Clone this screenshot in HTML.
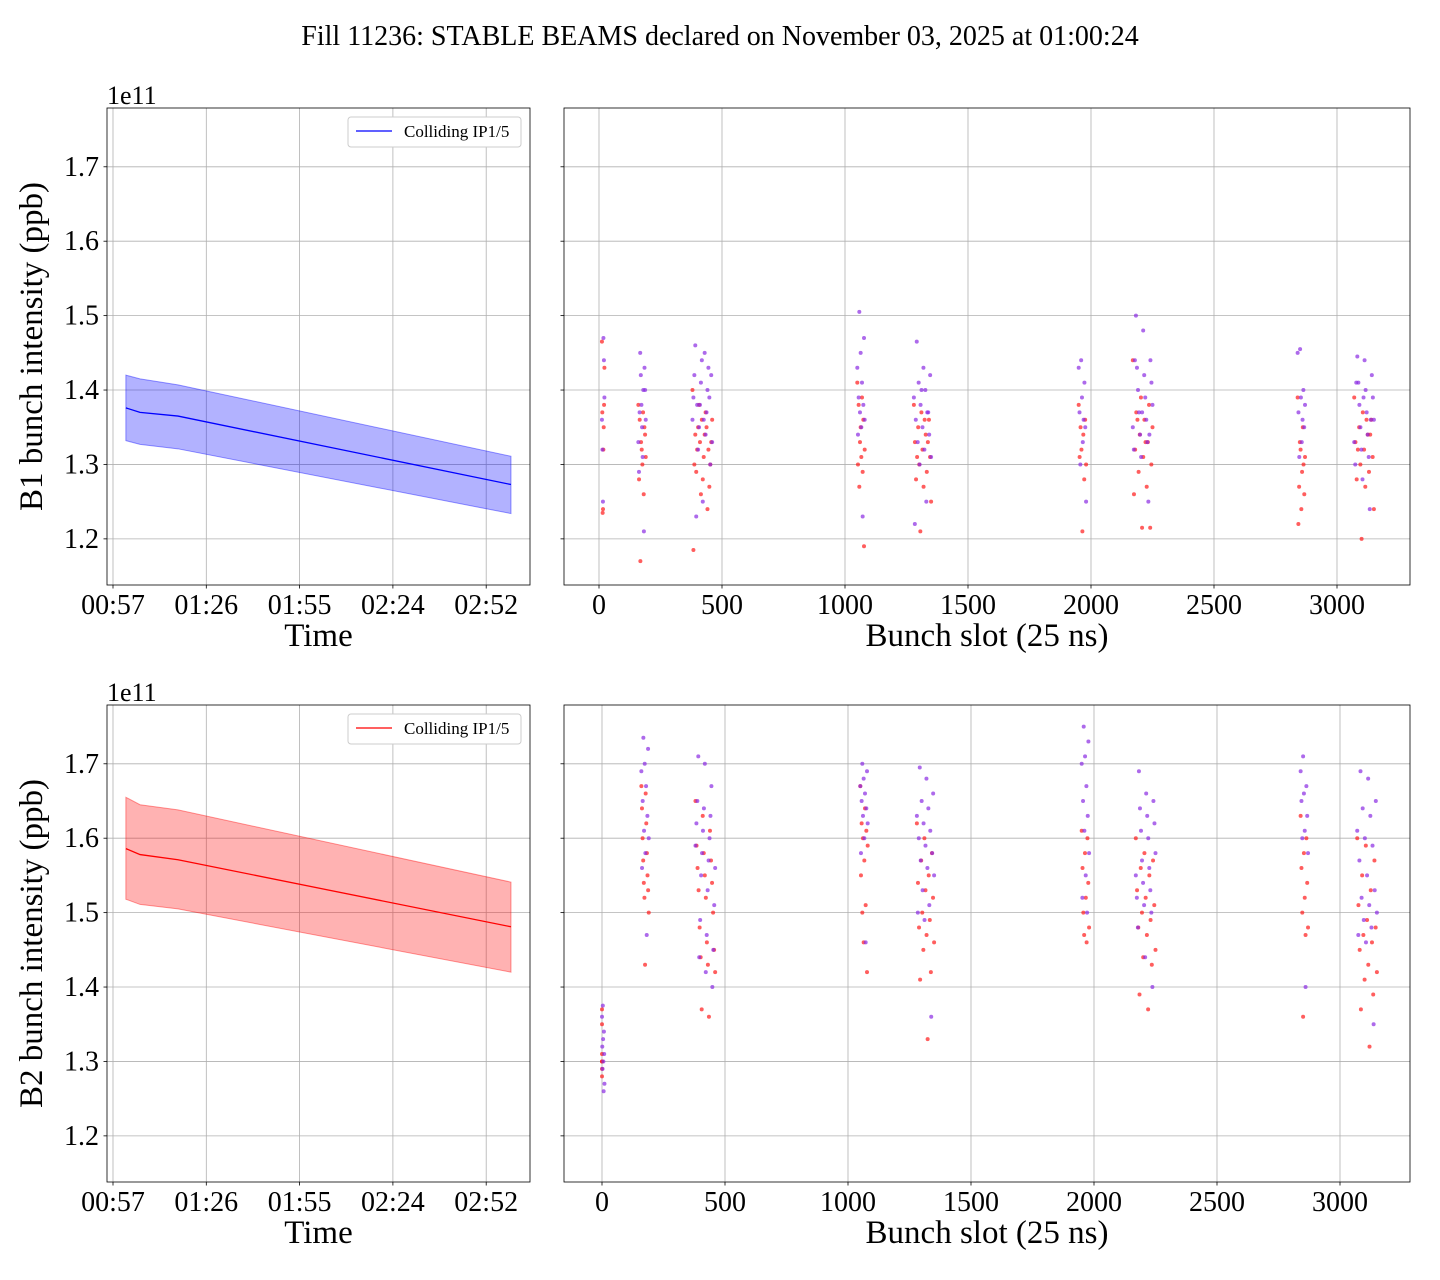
<!DOCTYPE html>
<html><head><meta charset="utf-8">
<style>
body{margin:0;background:#fff;}
svg{display:block;font-family:"Liberation Serif",serif;}
</style></head>
<body>
<svg id="fig" width="1440" height="1280" viewBox="0 0 1440 1280" xmlns="http://www.w3.org/2000/svg">
<text x="720" y="45" font-size="28" text-anchor="middle">Fill 11236: STABLE BEAMS declared on November 03, 2025 at 01:00:24</text>
</svg>
<script>
// ---- data ----
const yTicks = [1.2,1.3,1.4,1.5,1.6,1.7];
const timeTickMin = [0,29,58,87,116];
const timeTickLabels = ["00:57","01:26","01:55","02:24","02:52"];
const slotTicks = [0,500,1000,1500,2000,2500,3000];
const bandTimes = [4.0,8.4,20.2,123.7];
const b1Mean = [1.376,1.370,1.365,1.273];
const b1Upper = [1.420,1.415,1.407,1.311];
const b1Lower = [1.332,1.327,1.321,1.234];
const b2Mean = [1.586,1.578,1.571,1.481];
const b2Upper = [1.655,1.645,1.638,1.541];
const b2Lower = [1.518,1.511,1.505,1.420];
const clusterStart = [12,160,380,1050,1280,1950,2170,2840,3070];
const clusterEnd = [22,190,460,1080,1350,1980,2250,2870,3150];
const clusterStartB2 = [0,160,380,1050,1280,1950,2170,2840,3070];
const clusterEndB2 = [10,190,460,1080,1350,1980,2250,2870,3150];
const b1Purple = [
[1.47,1.44,1.39,1.36,1.32,1.25],
[1.45,1.43,1.42,1.40,1.38,1.36,1.35,1.33,1.31,1.29,1.40,1.37,1.21],
[1.46,1.44,1.43,1.42,1.41,1.40,1.39,1.38,1.37,1.36,1.35,1.34,1.33,1.32,1.45,1.42,1.38,1.36,1.30,1.23,1.25,1.39],
[1.505,1.47,1.45,1.43,1.41,1.39,1.38,1.37,1.36,1.35,1.34,1.23],
[1.465,1.43,1.42,1.41,1.40,1.39,1.38,1.37,1.36,1.35,1.34,1.33,1.32,1.31,1.30,1.25,1.22,1.40,1.37],
[1.44,1.43,1.41,1.39,1.37,1.35,1.33,1.30,1.25,1.36],
[1.50,1.48,1.44,1.43,1.42,1.41,1.40,1.39,1.38,1.37,1.36,1.35,1.34,1.33,1.32,1.31,1.25,1.44,1.37,1.34],
[1.455,1.45,1.40,1.39,1.37,1.35,1.33,1.31,1.38,1.36],
[1.445,1.44,1.42,1.41,1.40,1.39,1.38,1.37,1.36,1.35,1.34,1.33,1.32,1.31,1.30,1.28,1.24,1.41,1.39,1.36]];
const b1Red = [
[1.465,1.43,1.38,1.35,1.32,1.24,1.235,1.37],
[1.38,1.37,1.36,1.35,1.33,1.31,1.30,1.28,1.26,1.17,1.34,1.32],
[1.40,1.38,1.37,1.36,1.35,1.34,1.33,1.32,1.31,1.30,1.29,1.28,1.27,1.34,1.36,1.32,1.30,1.26,1.24,1.185,1.33,1.35],
[1.41,1.39,1.38,1.36,1.33,1.32,1.31,1.30,1.29,1.27,1.19,1.35],
[1.38,1.37,1.36,1.35,1.34,1.33,1.32,1.31,1.30,1.29,1.28,1.27,1.25,1.21,1.33,1.31,1.36],
[1.38,1.36,1.34,1.32,1.31,1.30,1.28,1.21,1.35],
[1.44,1.39,1.38,1.37,1.36,1.35,1.34,1.33,1.32,1.31,1.30,1.29,1.27,1.26,1.215,1.215,1.36,1.33],
[1.39,1.35,1.33,1.31,1.29,1.27,1.26,1.24,1.22,1.30,1.32],
[1.39,1.37,1.36,1.35,1.34,1.33,1.32,1.31,1.30,1.29,1.28,1.27,1.24,1.20,1.34,1.32,1.36]];
const b2Purple = [
[1.375,1.36,1.34,1.33,1.32,1.31,1.30,1.29,1.27,1.26],
[1.735,1.72,1.70,1.69,1.67,1.65,1.63,1.61,1.60,1.58,1.56,1.47],
[1.71,1.70,1.67,1.65,1.64,1.63,1.62,1.61,1.60,1.59,1.58,1.57,1.56,1.55,1.53,1.51,1.49,1.47,1.45,1.44,1.42,1.40],
[1.70,1.69,1.68,1.67,1.66,1.65,1.64,1.63,1.62,1.60,1.58,1.46],
[1.695,1.68,1.66,1.65,1.64,1.63,1.62,1.61,1.60,1.59,1.58,1.57,1.56,1.55,1.53,1.51,1.50,1.49,1.36],
[1.75,1.73,1.71,1.70,1.67,1.65,1.63,1.61,1.58,1.55,1.52,1.50],
[1.69,1.66,1.65,1.64,1.63,1.62,1.61,1.60,1.58,1.57,1.56,1.55,1.54,1.53,1.52,1.51,1.50,1.48,1.44,1.40],
[1.71,1.69,1.67,1.66,1.65,1.63,1.61,1.60,1.58,1.40],
[1.69,1.68,1.65,1.64,1.63,1.61,1.60,1.59,1.57,1.55,1.53,1.52,1.51,1.50,1.49,1.48,1.47,1.46,1.35]];
const b2Red = [
[1.37,1.35,1.31,1.30,1.30,1.29,1.28],
[1.67,1.66,1.64,1.62,1.60,1.58,1.57,1.55,1.54,1.53,1.52,1.50,1.43],
[1.65,1.63,1.61,1.59,1.58,1.57,1.56,1.55,1.54,1.53,1.52,1.50,1.48,1.46,1.45,1.44,1.43,1.42,1.37,1.36],
[1.67,1.64,1.62,1.61,1.60,1.59,1.57,1.55,1.51,1.50,1.42,1.46],
[1.62,1.60,1.58,1.57,1.55,1.54,1.53,1.52,1.50,1.49,1.48,1.47,1.46,1.45,1.42,1.41,1.33],
[1.61,1.60,1.58,1.56,1.54,1.52,1.50,1.48,1.46,1.47],
[1.60,1.58,1.57,1.56,1.55,1.53,1.52,1.51,1.50,1.49,1.48,1.47,1.45,1.44,1.43,1.39,1.37],
[1.63,1.60,1.58,1.56,1.54,1.52,1.50,1.48,1.47,1.36],
[1.60,1.59,1.57,1.55,1.53,1.51,1.49,1.48,1.47,1.46,1.45,1.43,1.42,1.41,1.39,1.37,1.32]];

// ---- drawing ----
const NS="http://www.w3.org/2000/svg";
const fig=document.getElementById('fig');
function mk(tag,attrs,parent){const e=document.createElementNS(NS,tag);for(const k in attrs)e.setAttribute(k,attrs[k]);(parent||fig).appendChild(e);return e;}
const yMin=1.138,yMax=1.779;
function yScale(top,bottom){return v=>bottom-(v-yMin)/(yMax-yMin)*(bottom-top);}
const tScale=m=>113+m*(93.3/29);
function sScale(x0){return s=>x0+s*0.246;}

function panelFrame(name,L,T,R,B,ys,xTicks,xLabels,xs,xTitle,yTitle,showYLabels){
  const g=mk('g',{});
  
  
  yTicks.forEach(v=>{
    const y=ys(v);
    const gl=mk('line',{x1:L,x2:R,y1:y,y2:y,stroke:'#b0b0b0','stroke-width':0.8},g);
    
    
    mk('line',{x1:L-3.5,x2:L,y1:y,y2:y,stroke:'#000','stroke-width':0.8},g);
    if(showYLabels){
      const t=mk('text',{x:L-8,y:y+9,'font-size':28,'text-anchor':'end'},g);
      t.textContent=v.toFixed(1);
      
      
    }
  });
  xTicks.forEach((v,i)=>{
    const x=xs(v);
    const gl=mk('line',{x1:x,x2:x,y1:T,y2:B,stroke:'#b0b0b0','stroke-width':0.8},g);
    
    
    mk('line',{x1:x,x2:x,y1:B,y2:B+3.5,stroke:'#000','stroke-width':0.8},g);
    const t=mk('text',{x:x,y:B+29,'font-size':28,'text-anchor':'middle'},g);
    t.textContent=xLabels[i];
    
    
  });
  const xt=mk('text',{x:(L+R)/2,y:B+61,'font-size':33,'text-anchor':'middle'},g);
  xt.textContent=xTitle;
  
  
  if(yTitle){
    const yt=mk('text',{x:0,y:0,'font-size':33,'text-anchor':'middle',transform:`translate(52,${(T+B)/2}) rotate(-90)`},g);
    yt.textContent=yTitle;
    yt.setAttribute('transform',`translate(52,${(T+B)/2}) rotate(-90)`);
    yt.setAttribute('transform',`translate(51,${(T+B)/2}) rotate(-90)`);
    yt.setAttribute('transform',`translate(52,${(T+B)/2}) rotate(-90)`);
    yt.setAttribute('transform',`translate(52,${(T+B)/2}) rotate(-90)`);
    yt.setAttribute('transform',`translate(52,${(T+B)/2}) rotate(-90)`);
    yt.setAttribute('transform',`translate(52,${(T+B)/2}) rotate(-90)`);
    yt.setAttribute('transform',`translate(52,${(T+B)/2}) rotate(-90)`);
    yt.setAttribute('transform',`translate(52,${(T+B)/2}) rotate(-90)`);
    yt.setAttribute('transform',`translate(52,${(T+B)/2}) rotate(-90)`);
    yt.setAttribute('transform',`translate(52,${(T+B)/2}) rotate(-90)`);
    yt.setAttribute('transform',`translate(52,${(T+B)/2}) rotate(-90)`);
    yt.setAttribute('transform',`translate(52,${(T+B)/2}) rotate(-90)`);
    yt.setAttribute('transform',`translate(52,${(T+B)/2}) rotate(-90)`);
    yt.setAttribute('transform',`translate(52,${(T+B)/2}) rotate(-90)`);
    yt.setAttribute('transform',`translate(52,${(T+B)/2}) rotate(-90)`);
    yt.setAttribute('transform',`translate(52,${(T+B)/2}) rotate(-90)`);
    yt.setAttribute('transform',`translate(52,${(T+B)/2}) rotate(-90)`);
    yt.setAttribute('transform',`translate(52,${(T+B)/2}) rotate(-90)`);
    yt.setAttribute('transform',`translate(52,${(T+B)/2}) rotate(-90)`);
    yt.setAttribute('transform',`translate(52,${(T+B)/2}) rotate(-90)`);
    yt.setAttribute('transform',`translate(52,${(T+B)/2}) rotate(-90)`);
    yt.setAttribute('transform',`translate(52,${(T+B)/2}) rotate(-90)`);
    yt.setAttribute('transform',`translate(52,${(T+B)/2}) rotate(-90)`);
    yt.setAttribute('transform',`translate(42,${(T+B)/2}) rotate(-90)`);
    
    
    const e=mk('text',{x:L,y:T-4,'font-size':26},g);
    e.textContent='1e11';
    
    
  }
  return g;
}
function border(L,T,R,B){
  const r=mk('rect',{x:L,y:T,width:R-L,height:B-T,fill:'none',stroke:'#000','stroke-width':0.8});
  
  
}
function timePanel(T,B,mean,up,lo,color,fillc,yTitle,prefix){
  const L=107,R=530,ys=yScale(T,B);
  panelFrame(prefix+'-time-panel',L,T,R,B,ys,timeTickMin,timeTickLabels,tScale,'Time',yTitle,true);
  let d='M'+bandTimes.map((t,i)=>tScale(t)+','+ys(up[i])).join('L');
  for(let i=bandTimes.length-1;i>=0;i--)d+='L'+tScale(bandTimes[i])+','+ys(lo[i]);
  const band=mk('path',{d:d+'Z',fill:fillc,'fill-opacity':0.3,stroke:fillc,'stroke-opacity':0.4,'stroke-width':1});
  
  
  const ln=mk('polyline',{points:bandTimes.map((t,i)=>tScale(t)+','+ys(mean[i])).join(' '),fill:'none',stroke:color,'stroke-width':1.3});
  
  
  const lg=mk('g',{});
  
  
  mk('rect',{x:348,y:T+9,width:173,height:30,rx:3,fill:'#fff',stroke:'#ccc','stroke-width':1},lg);
  mk('line',{x1:356,x2:392,y1:T+23,y2:T+23,stroke:color,'stroke-width':1.3},lg);
  const lt=mk('text',{x:404,y:T+29,'font-size':17},lg);
  lt.textContent='Colliding IP1/5';
  
  
  border(L,T,R,B);
}
function slotPanel(T,B,x0,starts,ends,purple,red,prefix){
  const L=564,R=1410,ys=yScale(T,B),xs=sScale(x0);
  panelFrame(prefix+'-slot-panel',L,T,R,B,ys,slotTicks,slotTicks.map(String),xs,'Bunch slot (25 ns)',null,false);
  [[red,'#ff1a1a'],[purple,'#8a2be2']].forEach(([set,col],si)=>{
    set.forEach((vals,c)=>{
      const n=vals.length;
      vals.forEach((v,i)=>{
        const k=(i*7+si*3)%n;
        const s=starts[c]+(n>1?k*(ends[c]-starts[c])/(n-1):0);
        const p=mk('circle',{cx:xs(s),cy:ys(v),r:2,fill:col,'fill-opacity':0.7});
        
        
      });
    });
  });
  border(L,T,R,B);
}
timePanel(108,585,b1Mean,b1Upper,b1Lower,'#0000ff','#0000ff','B1 bunch intensity (ppb)','b1');
slotPanel(108,585,599,clusterStart,clusterEnd,b1Purple,b1Red,'b1');
timePanel(705,1182,b2Mean,b2Upper,b2Lower,'#ff0000','#ff0000','B2 bunch intensity (ppb)','b2');
slotPanel(705,1182,602,clusterStartB2,clusterEndB2,b2Purple,b2Red,'b2');
</script>
</body></html>
